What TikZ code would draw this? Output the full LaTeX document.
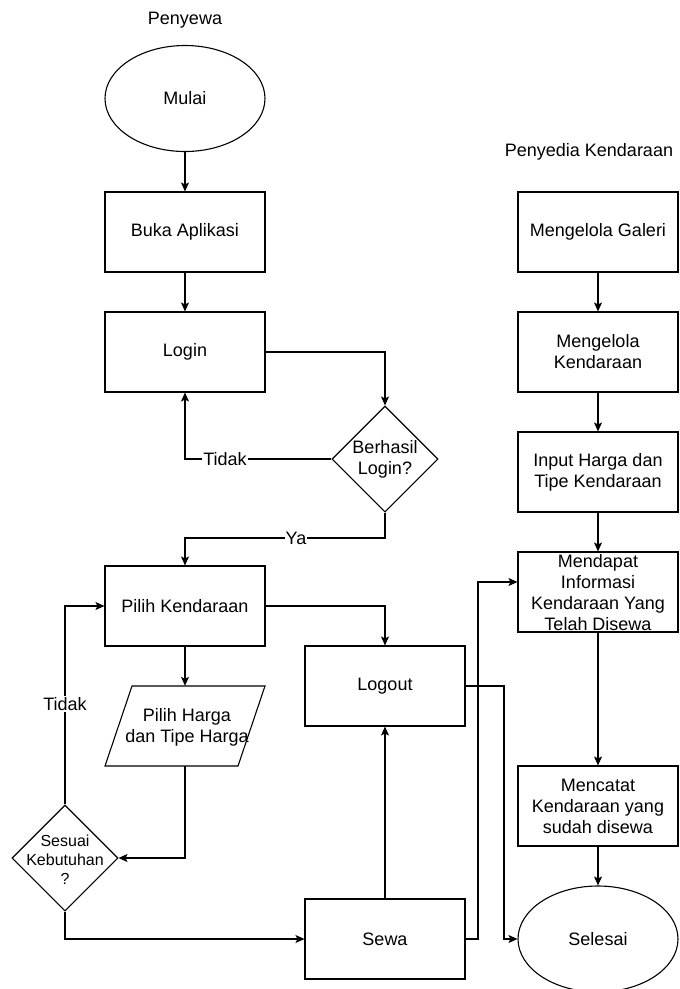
\documentclass[tikz,border=0pt]{standalone}
\usepackage{fontspec}
\setmainfont{Liberation Sans}
\usetikzlibrary{shapes.geometric,arrows.meta}
\begin{document}
\begin{tikzpicture}[x=1pt,y=-1pt,
  every node/.style={font=\fontsize{18}{21}\selectfont, align=center, inner sep=0pt},
  box/.style={draw, line width=1.1pt, minimum width=160pt, minimum height=80pt},
  oval/.style={draw, ellipse, line width=1.1pt, minimum width=160pt, minimum height=106pt},
  dia/.style={draw, diamond, line width=1.1pt, minimum width=106pt, minimum height=106pt},
  arr/.style={line width=1.1pt, -{Stealth[length=9pt,width=8pt,inset=2pt]}},
  ln/.style={line width=1.1pt},
  lbl/.style={fill=white, inner sep=1pt}]
\useasboundingbox (0,0) rectangle (680,989);
% titles
\node (t1) at (185,20) {Penyewa};
\node (t2) at (589,152) {Penyedia Kendaraan};
% left column
\node[oval] (mulai) at (185,98.5) {Mulai};
\node[box] (buka) at (185,232) {Buka Aplikasi};
\node[box] (login) at (185,352) {Login};
\node[dia] (d1) at (385,459) {};
\node (d1t) at (385,459) {Berhasil\\Login?};
\node[box] (pk) at (185,606) {Pilih Kendaraan};
\node[minimum width=160pt, minimum height=80pt] (par) at (185,726) {};
\draw[ln] (132,686) -- (265,686) -- (238,766) -- (105,766) -- cycle;
\node (part) at (187,727) {Pilih Harga\\dan Tipe Harga};
\node[dia] (d2) at (65,858) {};
\node[font=\fontsize{16}{19}\selectfont] (d2t) at (65,860) {Sesuai\\Kebutuhan\\?};
\node[box] (logout) at (385,686) {Logout};
\node[box] (sewa) at (385,939) {Sewa};
% right column
\node[box] (mg) at (598,232) {Mengelola Galeri};
\node[box] (mk) at (598,352) {Mengelola\\Kendaraan};
\node[box] (ih) at (598,472) {Input Harga dan\\Tipe Kendaraan};
\node[box] (md) at (598,592) {};
\node (mdt) at (598,593) {Mendapat\\Informasi\\Kendaraan Yang\\Telah Disewa};
\node[box] (mc) at (598,806) {Mencatat\\Kendaraan yang\\sudah disewa};
\node[oval] (sel) at (598,939) {Selesai};
% connectors
\draw[arr] (mulai) -- (buka);
\draw[arr] (buka) -- (login);
\draw[arr] (login.east) -| (d1.north);
\draw[arr] (d1.west) -| (login.south);
\node[lbl] (tidak1) at (225,459) {Tidak};
\coordinate (ya1) at (385,538);
\draw[arr] (d1.south) -- (ya1) -| (pk.north);
\node[lbl] (ya) at (296,538) {Ya};
\draw[arr] (pk.south) -- (par.north);
\draw[arr] (par.south) |- (d2.east);
\draw[arr] (d2.north) |- (pk.west);
\node[lbl] (tidak2) at (65,704) {Tidak};
\draw[arr] (d2.south) |- (sewa.west);
\draw[arr] (pk.east) -| (logout.north);
\draw[arr] (sewa.north) -- (logout.south);
\coordinate (s1) at (478,939);
\draw[arr] (sewa.east) -- (s1) |- ([yshift=10pt]md.west);
\coordinate (l1) at (504,686);
\draw[arr] (logout.east) -- (l1) |- (sel.west);
\draw[arr] (mg) -- (mk);
\draw[arr] (mk) -- (ih);
\draw[arr] (ih) -- (md);
\draw[arr] (md) -- (mc);
\draw[arr] (mc) -- (sel);
\end{tikzpicture}
\end{document}
